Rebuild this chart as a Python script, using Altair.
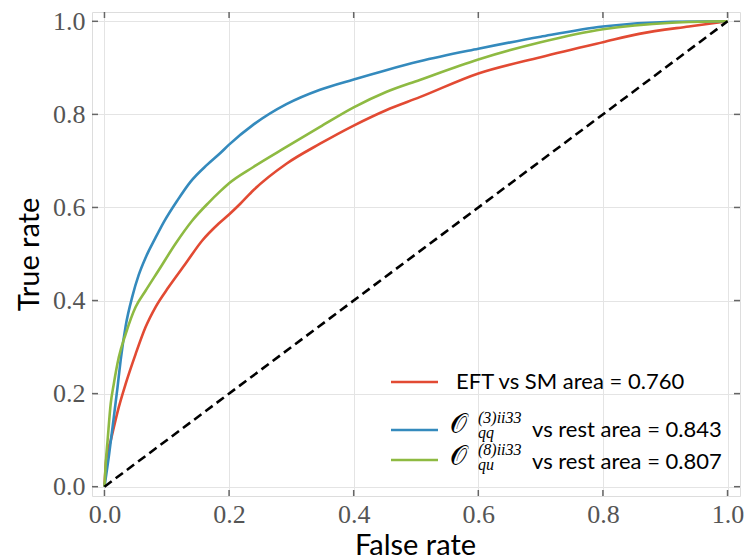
import altair as alt
import pandas as pd

# ROC curves: false positive rate / true positive rate for each classifier
eft_fpr = [0.0, 0.003, 0.01, 0.023, 0.034, 0.05, 0.066, 0.082, 0.103, 0.13, 0.157, 0.183, 0.2,
           0.218, 0.239, 0.292, 0.346, 0.4, 0.452, 0.506, 0.6, 0.7, 0.8, 0.858, 0.938, 1.0]
eft_tpr = [0.0, 0.06, 0.099, 0.171, 0.221, 0.285, 0.343, 0.386, 0.429, 0.479, 0.529, 0.565, 0.585,
           0.608, 0.637, 0.694, 0.737, 0.776, 0.809, 0.837, 0.888, 0.923, 0.955, 0.973, 0.989, 1.0]

qq3_fpr = [0.0, 0.0075, 0.013, 0.021, 0.026, 0.034, 0.045, 0.055, 0.066, 0.082, 0.095, 0.117, 0.138,
           0.165, 0.186, 0.2, 0.239, 0.292, 0.346, 0.4, 0.452, 0.506, 0.6, 0.7, 0.8, 0.911, 1.0]
qq3_tpr = [0.0, 0.07, 0.128, 0.214, 0.272, 0.345, 0.41, 0.455, 0.492, 0.535, 0.568, 0.615, 0.655,
           0.692, 0.717, 0.735, 0.778, 0.822, 0.853, 0.875, 0.895, 0.914, 0.941, 0.967, 0.989, 0.999, 1.0]

qu8_fpr = [0.0, 0.002, 0.005, 0.01, 0.015, 0.023, 0.034, 0.05, 0.066, 0.087, 0.114, 0.141, 0.167,
           0.186, 0.2, 0.239, 0.292, 0.346, 0.4, 0.452, 0.506, 0.6, 0.7, 0.8, 0.911, 1.0]
qu8_tpr = [0.0, 0.05, 0.099, 0.178, 0.221, 0.278, 0.328, 0.386, 0.421, 0.465, 0.522, 0.572, 0.61,
           0.635, 0.652, 0.687, 0.730, 0.773, 0.815, 0.848, 0.874, 0.918, 0.955, 0.983, 0.997, 1.0]

series_keys = ["eft", "qq3", "qu8"]
series_colors = ["#E24A33", "#348ABD", "#8EBA42"]
area_values = ["0.760", "0.843", "0.807"]
tick_values = [0.0, 0.2, 0.4, 0.6, 0.8, 1.0]

W, H = 648, 484
LABEL_FONT = "Liberation Serif"
TEXT_FONT = "Lato"
FRAME = "#666666"

curves = {
    "eft": (eft_fpr, eft_tpr),
    "qq3": (qq3_fpr, qq3_tpr),
    "qu8": (qu8_fpr, qu8_tpr),
}

x_scale = alt.Scale(domain=[-0.02, 1.02], nice=False, zero=False)
y_scale = alt.Scale(domain=[-0.02, 1.02], nice=False, zero=False)

x_axis = alt.Axis(values=tick_values, format=".1f", ticks=False, domain=False,
                  grid=True, gridColor="#e4e4e4", gridWidth=1,
                  labelFont=LABEL_FONT, labelFontSize=26, labelColor="#555555",
                  labelPadding=5, labelFlush=False,
                  title="False rate", titleFont=TEXT_FONT, titleFontSize=29,
                  titleFontWeight="normal", titleColor="black",
                  titleX=323, titleY=58, titleBaseline="alphabetic", titleAlign="center")
y_axis = alt.Axis(values=tick_values, format=".1f", ticks=False, domain=False,
                  grid=True, gridColor="#e4e4e4", gridWidth=1,
                  labelFont=LABEL_FONT, labelFontSize=26, labelColor="#555555",
                  labelPadding=7, labelFlush=False,
                  title="True rate", titleFont=TEXT_FONT, titleFontSize=29,
                  titleFontWeight="normal", titleColor="black",
                  titleX=-54, titleY=242, titleBaseline="alphabetic", titleAlign="center",
                  titleAngle=270)

layers = []

# axes + grid carried by an invisible layer
frame_df = pd.DataFrame({"x": [0.0, 1.0], "y": [0.0, 1.0]})
layers.append(
    alt.Chart(frame_df).mark_point(opacity=0).encode(
        x=alt.X("x:Q", scale=x_scale, axis=x_axis),
        y=alt.Y("y:Q", scale=y_scale, axis=y_axis),
    )
)

for key, color in zip(series_keys, series_colors):
    fpr, tpr = curves[key]
    df = pd.DataFrame({"fpr": fpr, "tpr": tpr, "idx": range(len(fpr))})
    layers.append(
        alt.Chart(df).mark_line(color=color, strokeWidth=2.6, interpolate="monotone").encode(
            x=alt.X("fpr:Q", scale=x_scale),
            y=alt.Y("tpr:Q", scale=y_scale),
            order="idx:Q",
        )
    )

# chance diagonal
diag_df = pd.DataFrame({"fpr": [0.0, 1.0], "tpr": [0.0, 1.0]})
layers.append(
    alt.Chart(diag_df).mark_line(color="black", strokeWidth=2.6, strokeDash=[9, 5]).encode(
        x=alt.X("fpr:Q", scale=x_scale),
        y=alt.Y("tpr:Q", scale=y_scale),
    )
)

# inward ticks on all four sides
tick_df = pd.DataFrame({"v": tick_values})
TL = 6
tick_style = dict(color=FRAME, strokeWidth=1.5)
layers += [
    alt.Chart(tick_df).mark_rule(**tick_style).encode(
        x=alt.X("v:Q", scale=x_scale), y=alt.value(H), y2=alt.value(H - TL)),
    alt.Chart(tick_df).mark_rule(**tick_style).encode(
        x=alt.X("v:Q", scale=x_scale), y=alt.value(0), y2=alt.value(TL)),
    alt.Chart(tick_df).mark_rule(**tick_style).encode(
        y=alt.Y("v:Q", scale=y_scale), x=alt.value(0), x2=alt.value(TL)),
    alt.Chart(tick_df).mark_rule(**tick_style).encode(
        y=alt.Y("v:Q", scale=y_scale), x=alt.value(W), x2=alt.value(W - TL)),
]

# legend (pixel layout inside the plot area)
leg_line_y = [370, 418, 448]
leg_base_y = [377, 425, 457]
LX0, LX1 = 299, 346
legend_df = pd.DataFrame({
    "key": series_keys,
    "x0": [LX0] * 3, "x1": [LX1] * 3,
    "ly": leg_line_y,
})
layers.append(
    alt.Chart(legend_df).mark_rule(strokeWidth=2.6).encode(
        x=alt.X("x0:Q", scale=None), x2="x1:Q",
        y=alt.Y("ly:Q", scale=None),
        color=alt.Color("key:N", scale=alt.Scale(domain=series_keys, range=series_colors), legend=None),
    )
)

def text_layer(txt, x, y, font, size, style="normal"):
    return alt.Chart(pd.DataFrame({"t": [txt]})).mark_text(
        align="left", baseline="alphabetic", font=font, fontSize=size,
        fontStyle=style, color="black",
    ).encode(text="t:N", x=alt.value(x), y=alt.value(y))

layers.append(text_layer(f"EFT vs SM area = {area_values[0]}", 364, leg_base_y[0], TEXT_FONT, 22))

# operator symbols with super/subscripts
for row, (sup, sub) in zip([1, 2], [("(3)ii33", "qq"), ("(8)ii33", "qu")]):
    base = leg_base_y[row]
    layers.append(text_layer("\U0001D4AA", 358, base - 4, "DejaVu Sans", 27))
    layers.append(text_layer(sup, 386, base - 14, LABEL_FONT, 16, "italic"))
    layers.append(text_layer(sub, 386, base + 1, LABEL_FONT, 16, "italic"))
    layers.append(text_layer(f"vs rest area = {area_values[row]}", 440, base, TEXT_FONT, 22))

chart = alt.layer(*layers).properties(
    width=W, height=H,
    autosize=alt.AutoSizeParams(type="none"),
    padding={"left": 92, "top": 12, "right": 6, "bottom": 62},
).configure_view(stroke=FRAME, strokeWidth=2).configure(background="white")

chart.save("out.html", embed_options={"renderer": "svg", "actions": False})
